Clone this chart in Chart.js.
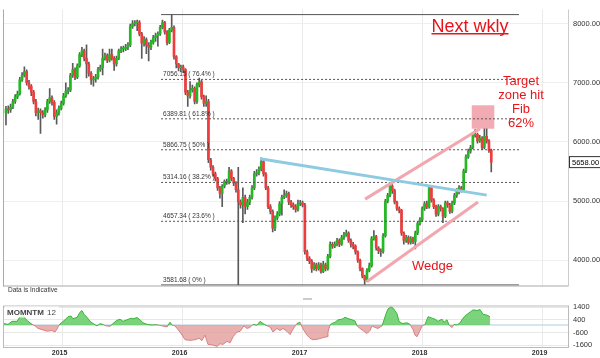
<!DOCTYPE html>
<html><head><meta charset="utf-8">
<script src="https://cdn.jsdelivr.net/npm/chart.js@4.4.1/dist/chart.umd.min.js"></script>
<style>
html,body{margin:0;padding:0;background:#fff;width:600px;height:358px;overflow:hidden}
#main{position:absolute;left:0;top:0}
#mom{position:absolute;left:0;top:296px}
</style></head><body>
<canvas id="main" width="600" height="296"></canvas>
<canvas id="mom" width="600" height="62"></canvas>
<script>
// ---------- DATA ----------
const firstWeek = '2014-07-13';
const open = [6492,6556,6540,6587,6683,6762,6810,7048,7127,7190,
7000,6937,6841,6683,6492,6524,6492,6460,6540,6683,
6746,6667,6429,6492,6571,6651,6778,6857,6873,7127,
7222,7095,7286,7476,7540,7413,7317,7159,7048,7063,
7095,7222,7254,7413,7460,7381,7476,7413,7317,7413,
7540,7571,7571,7603,7635,7952,8000,8016,8016,7825,
7667,7730,7635,7603,7683,7762,7794,7825,7937,8016,
7857,7683,7889,7937,7444,7317,7254,7270,7222,6841,
6778,6873,6905,6683,6968,7016,6762,6651,6683,5698,
5571,5460,5381,5222,5127,5254,5333,5317,5508,5381,
5302,5190,4984,4936,5063,4905,4984,5063,5222,5460,
5476,5540,5667,5460,5222,4905,4825,4540,4714,4778,
4952,5063,5095,5127,4984,4936,4905,4857,4952,4968,
4936,4143,4032,3984,3857,3921,3857,3921,3809,3921,
3857,4063,4270,4238,4270,4333,4270,4381,4429,4460,
4333,4270,4238,4143,4000,3857,3730,3667,3825,3905,
4365,4397,4206,4159,4143,4413,5000,5095,5254,5175,
4984,4873,4841,4460,4333,4381,4302,4365,4317,4460,
4619,4682,4873,4952,4905,5222,5016,4905,4778,4905,
4873,4746,4968,4936,4825,4968,5095,5175,5222,5190,
5508,5746,5841,5905,6111,6127,6016,6063,5905,6095,
6016,5857];
const high = [6600,6610,6640,6720,6800,6860,7090,7170,7270,7220,
7040,6970,6870,6720,6570,6560,6530,6580,6720,6900,
6780,6700,6540,6610,6690,6820,7000,6920,7160,7330,
7250,7320,7510,7600,7570,7640,7350,7190,7110,7140,
7260,7300,7570,7500,7490,7570,7570,7440,7450,7570,
7610,7620,7650,7680,7990,8050,8050,8060,8050,7850,
7780,7760,7680,7720,7800,7840,7860,7970,8060,8040,
7880,7920,8152,7960,7460,7330,7300,7300,7240,6870,
7020,6960,6930,7000,7080,7040,6790,6780,6720,5720,
5600,5490,5400,5250,5280,5360,5370,5570,5530,5400,
5330,5570,5020,5222,5100,5030,5100,5260,5500,5530,
5580,5730,5690,5480,5250,4940,4850,4750,4820,4990,
5100,5190,5170,5150,5010,4970,4940,5016,5010,5000,
4960,4170,4060,4010,3960,3950,3960,3950,3980,3950,
4100,4310,4300,4310,4370,4360,4420,4470,4508,4480,
4360,4300,4260,4160,4020,3870,3750,3860,3950,4400,
4500,4420,4230,4190,4450,5030,5130,5302,5280,5200,
5000,4900,4860,4480,4420,4410,4400,4390,4490,4650,
4720,4900,4990,5000,5254,5240,5040,4930,4940,4930,
4890,5000,5000,4960,5000,5130,5210,5260,5250,5540,
5780,5880,5940,6150,6206,6150,6110,6090,6222,6222,
6040,5880];
const low = [6286,6480,6500,6560,6650,6730,6790,7020,7100,6960,
6890,6780,6640,6440,6380,6143,6400,6420,6500,6650,
6620,6380,6300,6450,6540,6620,6750,6810,6850,7090,
7050,7070,7260,7440,7370,7080,7110,6970,6940,7010,
7060,7190,7130,7380,7340,7350,7380,7210,7280,7390,
7510,7520,7540,7560,7610,7920,7960,7880,7790,7410,
7620,7490,7370,7560,7650,7700,7620,7800,7910,7820,
7640,7660,7860,7400,7250,7200,7190,7170,6800,6600,
6740,6840,6640,6650,6930,6720,6600,6600,5650,5520,
5420,5340,5180,5050,4905,5220,5280,5290,5340,5260,
5150,3582,4880,4635,4780,4860,4940,5030,5190,5420,
5440,5510,5420,5190,4870,4780,4476,4500,4680,4750,
4760,5040,5060,4940,4890,4860,4810,4830,4920,4900,
4100,3990,3940,3794,3830,3820,3830,3780,3790,3820,
3830,4040,4200,4210,4240,4230,4250,4350,4400,4300,
4220,4190,4100,3960,3820,3700,3590,3640,3800,3880,
4340,4170,4110,4063,4120,4390,4970,5070,5130,4950,
4840,4800,4420,4270,4300,4270,4270,4280,4190,4430,
4590,4650,4840,4870,4880,4980,4870,4740,4750,4830,
4635,4720,4890,4790,4800,4940,5060,5120,5150,5170,
5480,5720,5810,5880,6080,5980,5990,5870,5880,5980,
5820,5492];
const close = [6556,6540,6587,6683,6762,6810,7048,7127,7190,7000,
6937,6841,6683,6492,6524,6492,6460,6540,6683,6746,
6667,6429,6492,6571,6651,6778,6857,6873,7127,7222,
7095,7286,7476,7540,7413,7317,7159,7048,7063,7095,
7222,7254,7413,7460,7381,7476,7413,7317,7413,7540,
7571,7571,7603,7635,7952,8000,8016,8016,7825,7667,
7730,7635,7603,7683,7762,7794,7825,7937,8016,7857,
7683,7889,7937,7444,7317,7254,7270,7222,6841,6778,
6873,6905,6683,6968,7016,6762,6651,6683,5698,5571,
5460,5381,5222,5127,5254,5333,5317,5508,5381,5302,
5190,4984,4936,5063,4905,4984,5063,5222,5460,5476,
5540,5667,5460,5222,4905,4825,4540,4714,4778,4952,
5063,5095,5127,4984,4936,4905,4857,4952,4968,4936,
4143,4032,3984,3857,3921,3857,3921,3809,3921,3857,
4063,4270,4238,4270,4333,4270,4381,4429,4460,4333,
4270,4238,4143,4000,3857,3730,3667,3825,3905,4365,
4397,4206,4159,4143,4413,5000,5095,5254,5175,4984,
4873,4841,4460,4333,4381,4302,4365,4317,4460,4619,
4682,4873,4952,4905,5222,5016,4905,4778,4905,4873,
4746,4968,4936,4825,4968,5095,5175,5222,5190,5508,
5746,5841,5905,6111,6127,6016,6063,5905,6095,6016,
5857,5658];

const fibLevels   = [3581.68, 4657.34, 5314.16, 5866.75, 6389.81, 7056.15, 8151.82];
const fibPercents = [0, 23.6, 38.2, 50, 61.8, 76.4, 100];
const fibSpan     = [2015.821, 2018.804];
const blueTrendX  = [2016.646, 2018.535];
const blueTrendY  = [5714, 5100];
const wedgeTopX   = [2017.521, 2018.479];
const wedgeTopY   = [5032, 6222];
const wedgeBotX   = [2017.535, 2018.462];
const wedgeBotY   = [3635, 4984];
const targetBoxX  = [2018.410, 2018.598];
const targetBoxY  = [6222, 6619];

const yearTicks  = [2015, 2016, 2017, 2018, 2019];
const priceTicks = [4000, 5000, 6000, 7000, 8000];
const momTicks   = [1400, 400, -600, -1600];

const momX = [2014.504,2014.546,2014.579,2014.621,2014.646,2014.671,2014.687,2014.712,2014.746,2014.771,
2014.796,2014.837,2014.871,2014.912,2014.937,2014.954,2014.971,2014.996,2015.021,2015.046,
2015.071,2015.087,2015.121,2015.146,2015.162,2015.179,2015.204,2015.229,2015.254,2015.287,
2015.312,2015.337,2015.362,2015.396,2015.421,2015.454,2015.479,2015.504,2015.537,2015.571,
2015.587,2015.621,2015.646,2015.671,2015.704,2015.746,2015.787,2015.829,2015.871,2015.896,
2015.912,2015.937,2015.979,2016.021,2016.062,2016.104,2016.137,2016.162,2016.187,2016.212,
2016.254,2016.287,2016.312,2016.337,2016.371,2016.396,2016.421,2016.454,2016.479,2016.512,
2016.537,2016.562,2016.587,2016.621,2016.646,2016.671,2016.704,2016.729,2016.754,2016.787,
2016.812,2016.837,2016.871,2016.896,2016.921,2016.954,2016.979,2017.004,2017.037,2017.062,
2017.087,2017.129,2017.171,2017.204,2017.212,2017.229,2017.246,2017.271,2017.296,2017.329,
2017.354,2017.379,2017.412,2017.437,2017.454,2017.479,2017.504,2017.537,2017.562,2017.579,
2017.604,2017.629,2017.662,2017.671,2017.696,2017.712,2017.737,2017.754,2017.787,2017.804,
2017.829,2017.871,2017.896,2017.921,2017.937,2017.954,2017.979,2017.996,2018.021,2018.046,
2018.079,2018.104,2018.129,2018.162,2018.179,2018.204,2018.221,2018.246,2018.262,2018.287,
2018.312,2018.337,2018.371,2018.396,2018.421,2018.454,2018.479,2018.504,2018.537,2018.562];
const momY = [120,50,290,290,660,900,540,290,50,-70,
-270,-390,-490,-440,-560,-320,0,220,410,660,
710,490,610,1020,1150,850,610,290,120,-70,
100,50,-70,-100,120,370,460,290,410,540,
490,590,410,170,50,0,20,-70,-150,220,
0,-70,-560,-1170,-1220,-1170,-1050,-1240,-800,-1540,
-1590,-1700,-1490,-1540,-1290,-1420,-930,-560,-510,-70,
-270,-200,50,-20,290,120,-70,-150,-560,-270,
-440,-270,-510,-760,-320,120,220,-320,-800,-1050,
-1170,-1120,-1000,-930,-560,0,120,220,410,460,
610,510,410,320,-70,-270,-440,-680,-440,-70,
-200,-270,-70,170,900,1270,1440,1340,900,290,
120,170,50,-370,-800,-930,-440,-70,50,660,
540,460,290,460,220,410,-20,-200,50,0,
170,540,850,1020,1200,1150,1220,850,780,660];

// ---------- HELPERS ----------
const FONT = '"Liberation Sans", Arial, sans-serif';
const X_MIN = 2014.504, X_MAX = 2019.212;
function weekToYear(i) {
  const t0 = Date.parse(firstWeek + 'T00:00:00Z');
  const t = t0 + i * 7 * 86400000;
  const y = new Date(t).getUTCFullYear();
  const s = Date.UTC(y, 0, 1), e = Date.UTC(y + 1, 0, 1);
  return y + (t - s) / (e - s);
}
const dates = close.map((_, i) => weekToYear(i));
const UP = '#22b922', DOWN = '#f03c3c';

const fibDatasets = fibLevels.map((lv, k) => ({
  type: 'line',
  data: [{x: fibSpan[0], y: lv}, {x: fibSpan[1], y: lv}],
  borderColor: '#555',
  borderWidth: 1,
  borderDash: (k === 0 || k === fibLevels.length - 1) ? [] : [2, 2],
  pointRadius: 0, fill: false, order: 5
}));

function seg(xs, ys, color) {
  return { type: 'line', data: xs.map((x, i) => ({x, y: ys[i]})),
    borderColor: color, borderWidth: 3, pointRadius: 0, fill: false, order: 1 };
}

const overlay = {
  id: 'overlay',
  beforeDatasetsDraw(chart) {
    const {ctx, scales: {x, y}} = chart;
    const x0 = x.getPixelForValue(targetBoxX[0]), x1 = x.getPixelForValue(targetBoxX[1]);
    const y0 = y.getPixelForValue(targetBoxY[1]), y1 = y.getPixelForValue(targetBoxY[0]);
    ctx.save();
    ctx.fillStyle = 'rgba(240,150,160,0.8)';
    ctx.fillRect(x0, y0, x1 - x0, y1 - y0);
    ctx.restore();
  },
  afterDraw(chart) {
    const {ctx, chartArea: a, scales: {x, y}} = chart;
    ctx.save();
    ctx.strokeStyle = '#aaa'; ctx.lineWidth = 1;
    ctx.beginPath();
    ctx.moveTo(a.left + 0.5, a.top); ctx.lineTo(a.left + 0.5, a.bottom);
    ctx.moveTo(a.left, a.bottom - 0.5); ctx.lineTo(a.right, a.bottom - 0.5);
    ctx.stroke();
    ctx.strokeStyle = '#ccc';
    ctx.beginPath(); ctx.moveTo(a.right + 0.5, a.top); ctx.lineTo(a.right + 0.5, a.bottom); ctx.stroke();
    ctx.font = '6.5px ' + FONT; ctx.fillStyle = '#333'; ctx.textAlign = 'left'; ctx.textBaseline = 'alphabetic';
    const lx = x.getPixelForValue(fibSpan[0]) + 2;
    fibLevels.forEach((lv, k) => {
      if (fibPercents[k] === 100) return;
      ctx.fillText(lv.toFixed(2) + ' ( ' + fibPercents[k] + '% )', lx, y.getPixelForValue(lv) - 3);
    });
    ctx.fillStyle = '#e8141b';
    ctx.font = '18px ' + FONT; ctx.textAlign = 'center';
    const t = 'Next wkly'; const w = ctx.measureText(t).width;
    ctx.fillText(t, 470, 31.5);
    ctx.fillRect(470 - w / 2, 33, w, 1.5);
    ctx.font = '13px ' + FONT;
    ['Target', 'zone hit', 'Fib', '62%'].forEach((s, i) => ctx.fillText(s, 521, 84.5 + i * 14.2));
    ctx.fillText('Wedge', 432.5, 269.5);
    ctx.fillStyle = '#333'; ctx.font = '6.5px ' + FONT; ctx.textAlign = 'left';
    ctx.fillText('Data is Indicative', 8, 292);
    const lp = close[close.length - 1];
    const py = y.getPixelForValue(lp);
    ctx.fillStyle = '#fff'; ctx.fillRect(569.5, py - 5.5, 40, 11);
    ctx.strokeStyle = '#333'; ctx.strokeRect(569.5, py - 5.5, 40, 11);
    ctx.fillStyle = '#000'; ctx.font = '7.5px ' + FONT; ctx.textBaseline = 'middle';
    ctx.fillText(lp.toFixed(2), 572, py + 0.5);
    ctx.restore();
  }
};

new Chart(document.getElementById('main'), {
  type: 'bar',
  data: {
    datasets: [
      seg(blueTrendX, blueTrendY, '#8fcbe0'),
      seg(wedgeTopX, wedgeTopY, '#f2a6ae'),
      seg(wedgeBotX, wedgeBotY, '#f2a6ae'),
      ...fibDatasets,
      { type: 'bar', data: dates.map((d, i) => ({x: d, y: [open[i], close[i]]})),
        backgroundColor: close.map((c, i) => c >= open[i] ? UP : DOWN),
        barThickness: 2, minBarLength: 1, grouped: false, order: 8 },
      { type: 'bar', data: dates.map((d, i) => ({x: d, y: [low[i], high[i]]})),
        backgroundColor: '#5a5a5a', barThickness: 1, grouped: false, order: 9 }
    ]
  },
  options: {
    responsive: false, animation: false, devicePixelRatio: 1,
    layout: {padding: {left: 3, top: 0, right: 0, bottom: 1}},
    plugins: {legend: {display: false}, tooltip: {enabled: false}},
    scales: {
      x: {type: 'linear', min: X_MIN, max: X_MAX, offset: false,
        afterBuildTicks: s => { s.ticks = yearTicks.map(v => ({value: v})); },
        ticks: {display: false},
        grid: {color: '#eaeaea', drawTicks: false, offset: false},
        border: {display: false},
        afterFit: s => { s.height = 0; }},
      y: {position: 'right', min: 3555, max: 8238,
        afterBuildTicks: s => { s.ticks = priceTicks.map(v => ({value: v})); },
        ticks: {font: {size: 7.5, family: FONT}, color: '#333', padding: 5, callback: v => Number(v).toFixed(2)},
        grid: {color: '#efefef', drawTicks: false},
        border: {display: false},
        afterFit: s => { s.width = 32; }}
    }
  },
  plugins: [overlay]
});

// ---------- MOMENTUM ----------
const momOverlay = {
  id: 'momOverlay',
  afterDraw(chart) {
    const {ctx, chartArea: a} = chart;
    ctx.save();
    ctx.strokeStyle = '#bbb'; ctx.lineWidth = 1;
    ctx.strokeRect(a.left + 0.5, a.top + 0.5, a.right - a.left, a.bottom - a.top);
    ctx.fillStyle = 'rgba(255,255,255,0.85)';
    ctx.fillRect(a.left + 2, a.top + 1, 54, 11);
    ctx.fillStyle = '#444'; ctx.textAlign = 'left'; ctx.textBaseline = 'alphabetic';
    ctx.font = 'bold 8px ' + FONT;
    ctx.fillText('MOMNTM', 7, a.top + 9.5);
    ctx.font = '8px ' + FONT;
    ctx.fillText('12', 47, a.top + 9.5);
    ctx.fillStyle = '#ccc';
    ctx.fillRect(303, 2, 9, 2);
    ctx.restore();
  }
};

new Chart(document.getElementById('mom'), {
  type: 'line',
  data: {
    datasets: [
      { data: momX.map((x, i) => ({x, y: momY[i]})),
        borderWidth: 1, pointRadius: 0, tension: 0,
        borderColor: '#3cb43c',
        segment: {borderColor: c => (c.p0.parsed.y + c.p1.parsed.y) >= 0 ? '#3cb43c' : '#d98080'},
        fill: {target: {value: 0}, above: 'rgba(100,205,100,0.85)', below: 'rgba(226,150,150,0.75)'},
        order: 2 },
      { data: [{x: X_MIN, y: 0}, {x: X_MAX, y: 0}], borderColor: '#c9dce8', borderWidth: 1.5,
        pointRadius: 0, fill: false, order: 3 }
    ]
  },
  options: {
    responsive: false, animation: false, devicePixelRatio: 1,
    layout: {padding: {left: 3, top: 6, right: 0, bottom: 0}},
    plugins: {legend: {display: false}, tooltip: {enabled: false}},
    scales: {
      x: {type: 'linear', min: X_MIN, max: X_MAX,
        afterBuildTicks: s => { s.ticks = yearTicks.map(v => ({value: v})); },
        ticks: {font: {size: 7, family: FONT, weight: 'bold'}, color: '#333', padding: 2, labelOffset: -3,
          maxRotation: 0, autoSkip: false, callback: v => String(v)},
        grid: {color: '#eaeaea', drawTicks: false},
        border: {display: false},
        afterFit: s => { s.height = 11; }},
      y: {position: 'right', min: -1746, max: 1546,
        afterBuildTicks: s => { s.ticks = momTicks.map(v => ({value: v})); },
        ticks: {font: {size: 7.5, family: FONT}, color: '#333', padding: 5, callback: v => String(v)},
        grid: {color: '#e8e8e8', drawTicks: false},
        border: {display: false},
        afterFit: s => { s.width = 32; }}
    }
  },
  plugins: [momOverlay]
});
</script>
</body></html>
